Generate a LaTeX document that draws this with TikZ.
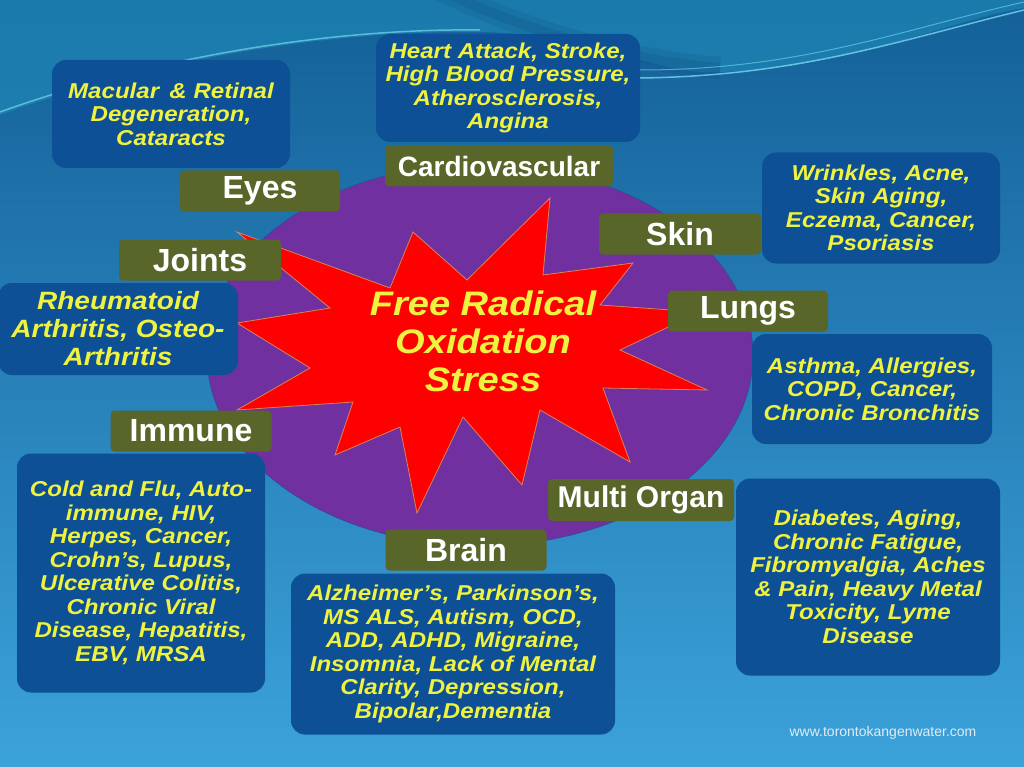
\documentclass[tikz,border=0pt]{standalone}
\usepackage{fontspec}
\setmainfont{Liberation Sans}
\newfontfamily\illfont[FakeStretch = 1.12]{Liberation Sans}
\usetikzlibrary{shapes.geometric}

\definecolor{slidetop}{RGB}{20,96,152}
\definecolor{slidebottom}{RGB}{60,162,218}
\definecolor{waveteal}{RGB}{30,140,185}
\definecolor{wavedark}{RGB}{14,60,110}
\definecolor{wavelight}{RGB}{120,215,240}
\definecolor{oxpurple}{RGB}{112,48,160}
\definecolor{oxrim}{RGB}{30,80,150}
\definecolor{starred}{RGB}{255,0,0}
\definecolor{starrim}{RGB}{215,130,90}
\definecolor{organbox}{RGB}{88,102,42}
\definecolor{illbox}{RGB}{14,80,150}
\definecolor{illtext}{RGB}{240,242,64}
\definecolor{urltext}{RGB}{225,235,245}

\begin{document}
\begin{tikzpicture}[x = 1pt, y = -1pt,
    organ/.style = {fill = organbox, rounded corners = 4pt, text = white, inner sep = 0pt,
        font = \bfseries\fontsize{32}{36}\selectfont},
    illness/.style = {fill = illbox, rounded corners = 14pt, text = illtext, inner sep = 0pt, align = center,
        font = \illfont\bfseries\itshape\fontsize{21.5}{23.5}\selectfont}]
    \useasboundingbox (0,0) rectangle (1024,767);
    % slide background and waves
    \shade[top color = slidetop, bottom color = slidebottom] (0,0) rectangle (1024,767);
    \fill[waveteal, opacity = 0.6] (0,0) -- (0,115) .. controls (150,60) and (330,30) .. (480,32)
        .. controls (600,34) and (650,75) .. (720,72) .. controls (850,68) and (950,20) .. (1024,8) -- (1024,0) -- cycle;
    \draw[wavedark, line width = 22, opacity = 0.12] (440,-10) .. controls (520,28) and (620,60) .. (720,68);
    \draw[wavedark, line width = 10, opacity = 0.15] (440,-10) .. controls (520,28) and (620,60) .. (720,68);
    \draw[wavelight, line width = 1.5, opacity = 0.7] (0,112) .. controls (150,58) and (330,28) .. (480,30);
    \draw[wavelight, line width = 1.5, opacity = 0.8] (640,78) .. controls (800,76) and (900,40) .. (1024,10);
    \draw[wavelight, line width = 1, opacity = 0.6] (640,70) .. controls (800,70) and (900,30) .. (1024,2);

    % oval and star
    \node[ellipse, draw = oxrim, fill = oxpurple, minimum width = 546, minimum height = 382] (oval) at (480,355) {};
    \draw[fill = starred, draw = starrim, line width = 0.8] (550,198) -- (543,275) -- (633,263) -- (600,305) -- (700,312)
        -- (620,350) -- (707,390) -- (603,388) -- (630,462) -- (540,410) -- (522,485) -- (463,417) -- (417,513)
        -- (400,427) -- (335,455) -- (353,402) -- (237,410) -- (310,368) -- (237,323) -- (330,308) -- (237,232)
        -- (390,288) -- (413,232) -- (467,280) -- cycle;
    \node[text = illtext, align = center, font = \illfont\bfseries\itshape\fontsize{34}{38}\selectfont] (stress) at (483,341)
        {Free Radical\\Oxidation\\Stress};

    % illnesses
    \node[illness, minimum width = 238, minimum height = 108] (eyesill) at (171,114)
        {Macular \,\& Retinal\\Degeneration,\\Cataracts};
    \node[illness, minimum width = 264, minimum height = 108] (heartill) at (508,88)
        {Heart Attack, Stroke,\\High Blood Pressure,\\Atherosclerosis,\\Angina};
    \node[illness, minimum width = 240, minimum height = 92, font = \illfont\bfseries\itshape\fontsize{25}{28}\selectfont]
        (jointsill) at (118,329) {Rheumatoid\\Arthritis, Osteo-\\Arthritis};
    \node[illness, minimum width = 238, minimum height = 111] (skinill) at (881,208)
        {Wrinkles, Acne,\\Skin Aging,\\Eczema, Cancer,\\Psoriasis};
    \node[illness, minimum width = 240, minimum height = 110] (lungsill) at (872,389)
        {Asthma, Allergies,\\COPD, Cancer,\\Chronic Bronchitis};
    \node[illness, minimum width = 248, minimum height = 239] (immuneill) at (141,573)
        {Cold and Flu, Auto-\\immune, HIV,\\Herpes, Cancer,\\Crohn’s, Lupus,\\Ulcerative Colitis,\\Chronic Viral\\Disease, Hepatitis,\\EBV, MRSA};
    \node[illness, minimum width = 264, minimum height = 197] (multiill) at (868,577)
        {Diabetes, Aging,\\Chronic Fatigue,\\Fibromyalgia, Aches\\\& Pain, Heavy Metal\\Toxicity, Lyme\\Disease};
    \node[illness, minimum width = 324, minimum height = 161] (brainill) at (453,654)
        {Alzheimer’s, Parkinson’s,\\MS ALS, Autism, OCD,\\ADD, ADHD, Migraine,\\Insomnia, Lack of Mental\\Clarity, Depression,\\Bipolar,Dementia};

    % organs
    \node[organ, minimum width = 228, minimum height = 41, font = \bfseries\fontsize{28}{32}\selectfont] (cardio) at (499,166) {Cardiovascular};
    \node[organ, minimum width = 160, minimum height = 41] (eyes) at (260,191) {Eyes};
    \node[organ, minimum width = 162, minimum height = 41] (joints) at (200,260) {Joints};
    \node[organ, minimum width = 162, minimum height = 41] (skin) at (680,234) {Skin};
    \node[organ, minimum width = 160, minimum height = 41] (lungs) at (748,311) {Lungs};
    \node[organ, minimum width = 161, minimum height = 41] (immune) at (191,431) {Immune};
    \node[organ, minimum width = 186, minimum height = 42, font = \bfseries\fontsize{30}{34}\selectfont] (multi) at (641,500) {Multi Organ};
    \node[organ, minimum width = 161, minimum height = 41] (brain) at (466,550) {Brain};

    \node[text = urltext, font = \fontsize{14}{16}\selectfont] (url) at (883,733) {www.torontokangenwater.com};
\end{tikzpicture}
\end{document}
